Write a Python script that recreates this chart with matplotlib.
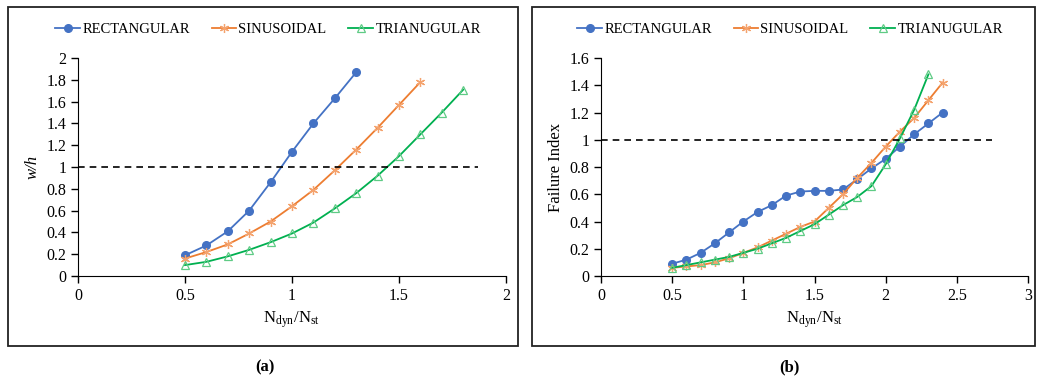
import matplotlib
matplotlib.use("Agg")
import matplotlib.pyplot as plt
from matplotlib.patches import Rectangle

plt.rcParams['font.family'] = ['Liberation Serif', 'DejaVu Serif']
plt.rcParams['mathtext.fontset'] = 'stix'
plt.rcParams['font.size'] = 11

# panel (a): w/h
xa_rect = [0.5, 0.6, 0.7, 0.8, 0.9, 1.0, 1.1, 1.2, 1.3]
ya_rect = [0.19, 0.28, 0.41, 0.60, 0.86, 1.14, 1.40, 1.63, 1.87]
xa_sin = [0.5, 0.6, 0.7, 0.8, 0.9, 1.0, 1.1, 1.2, 1.3, 1.4, 1.5, 1.6]
ya_sin = [0.16, 0.22, 0.29, 0.39, 0.50, 0.64, 0.79, 0.97, 1.16, 1.36, 1.57, 1.78]
xa_tri = [0.5, 0.6, 0.7, 0.8, 0.9, 1.0, 1.1, 1.2, 1.3, 1.4, 1.5, 1.6, 1.7, 1.8]
ya_tri = [0.10, 0.13, 0.18, 0.24, 0.31, 0.39, 0.49, 0.62, 0.76, 0.92, 1.10, 1.30, 1.50, 1.71]

# panel (b): failure index
xb_rect = [0.5, 0.6, 0.7, 0.8, 0.9, 1.0, 1.1, 1.2, 1.3, 1.4, 1.5, 1.6, 1.7, 1.8, 1.9, 2.0, 2.1, 2.2, 2.3, 2.4]
yb_rect = [0.09, 0.12, 0.17, 0.24, 0.32, 0.40, 0.47, 0.52, 0.59, 0.62, 0.625, 0.625, 0.635, 0.71, 0.79, 0.86, 0.95, 1.04, 1.12, 1.20]
xb_sin = [0.5, 0.6, 0.7, 0.8, 0.9, 1.0, 1.1, 1.2, 1.3, 1.4, 1.5, 1.6, 1.7, 1.8, 1.9, 2.0, 2.1, 2.2, 2.3, 2.4]
yb_sin = [0.06, 0.07, 0.08, 0.10, 0.13, 0.17, 0.21, 0.26, 0.31, 0.36, 0.40, 0.50, 0.60, 0.72, 0.83, 0.95, 1.06, 1.16, 1.29, 1.42]
xb_tri = [0.5, 0.6, 0.7, 0.8, 0.9, 1.0, 1.1, 1.2, 1.3, 1.4, 1.5, 1.6, 1.7, 1.8, 1.9, 2.0, 2.1, 2.2, 2.3]
yb_tri = [0.06, 0.08, 0.10, 0.12, 0.14, 0.17, 0.20, 0.24, 0.28, 0.33, 0.38, 0.45, 0.52, 0.58, 0.66, 0.82, 1.01, 1.22, 1.48]

names = ['RECTANGULAR', 'SINUSOIDAL', 'TRIANUGULAR']
blue = '#4472C4'
orange = '#ED7D31'
green = '#00B050'

fig = plt.figure(figsize=(10.38, 3.79), dpi=100)
axa = fig.add_axes([0.0751, 0.2718, 0.4124, 0.575])
axb = fig.add_axes([0.579, 0.2718, 0.4114, 0.575])

def draw(ax, xr, yr, xs, ys, xt, yt):
    ax.plot(xr, yr, color=blue, lw=1.3, marker='o', ms=5.5, label=names[0])
    ax.plot(xs, ys, color=orange, lw=1.3, marker=(6, 2, 0), ms=6.5, mec='#F4A36E', mew=0.9, label=names[1])
    ax.plot(xt, yt, color=green, lw=1.3, marker='^', ms=5.5, mfc='none', mec='#5FCB85', mew=0.9, label=names[2])
    for s in ['top', 'right']:
        ax.spines[s].set_visible(False)
    ax.tick_params(direction='out', length=5, width=1, labelsize=11.5)

draw(axa, xa_rect, ya_rect, xa_sin, ya_sin, xa_tri, ya_tri)
axa.plot([0, 1.87], [1, 1], 'k--', lw=1.2, dashes=(4, 3))
axa.set_xlim(0, 2)
axa.set_ylim(0, 2)
axa.set_xticks([0, 0.5, 1, 1.5, 2])
axa.set_xticklabels(['0', '0.5', '1', '1.5', '2'])
axa.set_yticks([0, 0.2, 0.4, 0.6, 0.8, 1, 1.2, 1.4, 1.6, 1.8, 2])
axa.set_yticklabels(['0', '0.2', '0.4', '0.6', '0.8', '1', '1.2', '1.4', '1.6', '1.8', '2'])
axa.set_ylabel('w/h', style='italic', fontsize=12)
axa.set_xlabel(r'N$_{\mathregular{dyn}}$/N$_{\mathregular{st}}$', fontsize=12)

draw(axb, xb_rect, yb_rect, xb_sin, yb_sin, xb_tri, yb_tri)
axb.plot([0, 2.75], [1, 1], 'k--', lw=1.2, dashes=(4, 3))
axb.set_xlim(0, 3)
axb.set_ylim(0, 1.6)
axb.set_xticks([0, 0.5, 1, 1.5, 2, 2.5, 3])
axb.set_xticklabels(['0', '0.5', '1', '1.5', '2', '2.5', '3'])
axb.set_yticks([0, 0.2, 0.4, 0.6, 0.8, 1, 1.2, 1.4, 1.6])
axb.set_yticklabels(['0', '0.2', '0.4', '0.6', '0.8', '1', '1.2', '1.4', '1.6'])
axb.set_ylabel('Failure Index', fontsize=12)
axb.set_xlabel(r'N$_{\mathregular{dyn}}$/N$_{\mathregular{st}}$', fontsize=12)

for ax, cx in [(axa, 268 / 1038), (axb, 790 / 1038)]:
    ax.legend(loc='center', bbox_to_anchor=(cx, 1 - 29 / 379), bbox_transform=fig.transFigure,
              ncol=3, frameon=False, fontsize=10.5, handlelength=1.7, handletextpad=0.15, columnspacing=1.5)

# panel frames
fig.patches.append(Rectangle((8 / 1038, 1 - 346 / 379), 510 / 1038, 339 / 379,
                             transform=fig.transFigure, fill=False, ec='#222222', lw=1.3))
fig.patches.append(Rectangle((532 / 1038, 1 - 346 / 379), 503 / 1038, 339 / 379,
                             transform=fig.transFigure, fill=False, ec='#222222', lw=1.3))

fig.text(265 / 1038, 1 - 367 / 379, '(a)', ha='center', va='center', fontsize=12, fontweight='bold')
fig.text(789 / 1038, 1 - 367 / 379, '(b)', ha='center', va='center', fontsize=12, fontweight='bold')

fig.savefig('out.png', dpi=100)
